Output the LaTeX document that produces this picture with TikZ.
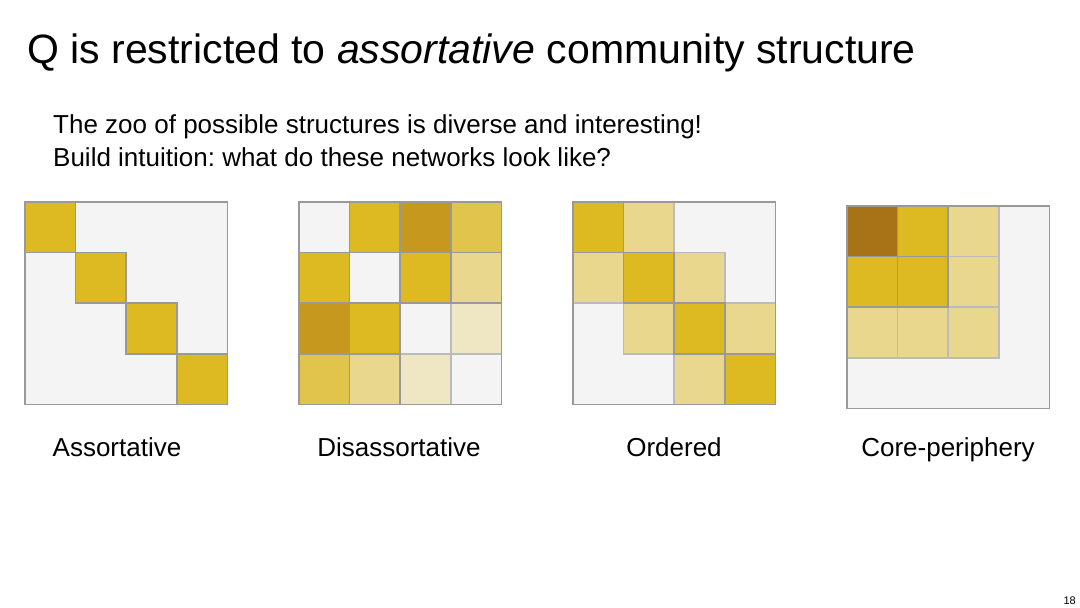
\documentclass[tikz,border=0pt]{standalone}
\usepackage{fontspec}
\setmainfont{Liberation Sans}
\frenchspacing
\definecolor{bgcell}{HTML}{F4F4F4}
\definecolor{gridgray}{HTML}{999999}
\definecolor{lgray}{HTML}{BBBBBB}
\definecolor{ymain}{HTML}{DDBA22}
\definecolor{ydark}{HTML}{C6981E}
\definecolor{ymed}{HTML}{E1C44C}
\definecolor{ylight}{HTML}{E8D78D}
\definecolor{ypale}{HTML}{EFE6C3}
\definecolor{ybrown}{HTML}{A87216}
\newcommand\mcell[5]{\filldraw[cellstyle, fill=#5] (#1+#3*50.6,#2+#4*50.6) rectangle ++(50.6,50.6);}
\newcommand\lcell[5]{\filldraw[lcellstyle, fill=#5] (#1+#3*50.6,#2+#4*50.6) rectangle ++(50.6,50.6);}
\begin{document}
\begin{tikzpicture}[x=1pt,y=-1pt,
  cellstyle/.style={draw=gridgray, line width=1.6pt},
  lcellstyle/.style={draw=lgray, line width=1.6pt},
  frame/.style={fill=bgcell, draw=gridgray, line width=1.6pt},
  lbl/.style={anchor=base, font=\fontsize{26}{30}\selectfont, inner sep=0pt},
  sub/.style={anchor=base west, font=\fontsize{26}{30}\selectfont, inner sep=0pt}]
\useasboundingbox[fill=white] (0,0) rectangle (1080,608);
\node[anchor=base west, inner sep=0pt, font=\fontsize{41}{46}\selectfont] (title) at (27,63) {Q is restricted to \textit{assortative} community structure};
\node[sub] (sub1) at (53,133) {The zoo of possible structures is diverse and interesting!};
\node[sub] (sub2) at (53,166) {Build intuition: what do these networks look like?};
% Assortative
\filldraw[frame] (25,202) rectangle ++(202.4,202.4);
\mcell{25}{202}{0}{0}{ymain}
\mcell{25}{202}{1}{1}{ymain}
\mcell{25}{202}{2}{2}{ymain}
\mcell{25}{202}{3}{3}{ymain}
\draw[gridgray, line width=1.6pt] (25,202) rectangle ++(202.4,202.4);
% Disassortative
\filldraw[frame] (299,202) rectangle ++(202.4,202.4);
\lcell{299}{202}{3}{2}{ypale}
\lcell{299}{202}{2}{3}{ypale}
\lcell{299}{202}{3}{3}{bgcell}
\lcell{299}{202}{2}{2}{bgcell}
\mcell{299}{202}{0}{0}{bgcell}
\mcell{299}{202}{1}{1}{bgcell}
\mcell{299}{202}{3}{1}{ylight}
\mcell{299}{202}{1}{3}{ylight}
\mcell{299}{202}{3}{0}{ymed}
\mcell{299}{202}{0}{3}{ymed}
\mcell{299}{202}{1}{0}{ymain}
\mcell{299}{202}{2}{0}{ydark}
\mcell{299}{202}{0}{1}{ymain}
\mcell{299}{202}{2}{1}{ymain}
\mcell{299}{202}{0}{2}{ydark}
\mcell{299}{202}{1}{2}{ymain}
\draw[gridgray, line width=1.6pt] (299,202) rectangle ++(202.4,202.4);
% Ordered
\filldraw[frame] (573,202) rectangle ++(202.4,202.4);
\lcell{573}{202}{1}{0}{ylight}
\lcell{573}{202}{0}{1}{ylight}
\lcell{573}{202}{2}{1}{ylight}
\lcell{573}{202}{1}{2}{ylight}
\lcell{573}{202}{3}{2}{ylight}
\lcell{573}{202}{2}{3}{ylight}
\mcell{573}{202}{0}{0}{ymain}
\mcell{573}{202}{1}{1}{ymain}
\mcell{573}{202}{2}{2}{ymain}
\mcell{573}{202}{3}{3}{ymain}
\draw[gridgray, line width=1.6pt] (573,202) rectangle ++(202.4,202.4);
% Core-periphery
\filldraw[frame] (847,206) rectangle ++(202.4,202.4);
\lcell{847}{206}{2}{0}{ylight}
\lcell{847}{206}{2}{1}{ylight}
\lcell{847}{206}{0}{2}{ylight}
\lcell{847}{206}{1}{2}{ylight}
\lcell{847}{206}{2}{2}{ylight}
\mcell{847}{206}{0}{0}{ybrown}
\mcell{847}{206}{1}{0}{ymain}
\mcell{847}{206}{0}{1}{ymain}
\mcell{847}{206}{1}{1}{ymain}
\draw[gridgray, line width=1.6pt] (847,206) rectangle ++(202.4,202.4);
% labels
\node[lbl] (l1) at (117,456) {Assortative};
\node[lbl] (l2) at (399,456) {Disassortative};
\node[lbl] (l3) at (674,456) {Ordered};
\node[lbl] (l4) at (948,456) {Core-periphery};
\node[anchor=base east, inner sep=0pt, font=\fontsize{11}{13}\selectfont] (pg) at (1076,604) {18};
\end{tikzpicture}
\end{document}
